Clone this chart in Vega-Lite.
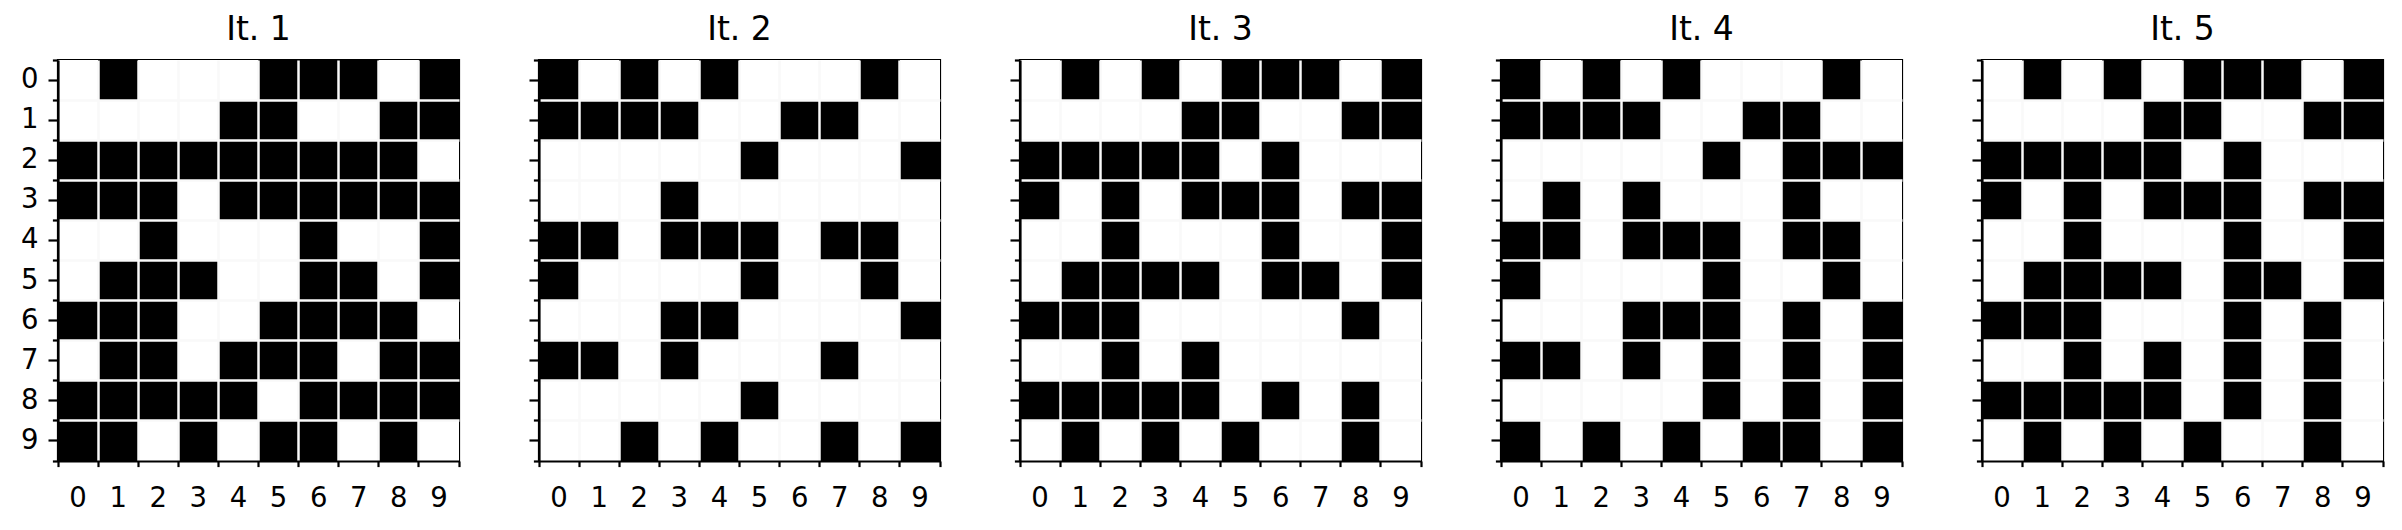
{
"$schema": "https://vega.github.io/schema/vega-lite/v6.json",
"background": "white",
"padding": {"left": 19, "top": 12, "right": 0, "bottom": 0},
"spacing": 80,
"bounds": "flush",
"datasets": {"cells": [
{"i":1,"r":0,"c":0,"v":0},{"i":1,"r":0,"c":1,"v":1},{"i":1,"r":0,"c":2,"v":0},{"i":1,"r":0,"c":3,"v":0},{"i":1,"r":0,"c":4,"v":0},{"i":1,"r":0,"c":5,"v":1},{"i":1,"r":0,"c":6,"v":1},{"i":1,"r":0,"c":7,"v":1},{"i":1,"r":0,"c":8,"v":0},{"i":1,"r":0,"c":9,"v":1},
{"i":1,"r":1,"c":0,"v":0},{"i":1,"r":1,"c":1,"v":0},{"i":1,"r":1,"c":2,"v":0},{"i":1,"r":1,"c":3,"v":0},{"i":1,"r":1,"c":4,"v":1},{"i":1,"r":1,"c":5,"v":1},{"i":1,"r":1,"c":6,"v":0},{"i":1,"r":1,"c":7,"v":0},{"i":1,"r":1,"c":8,"v":1},{"i":1,"r":1,"c":9,"v":1},
{"i":1,"r":2,"c":0,"v":1},{"i":1,"r":2,"c":1,"v":1},{"i":1,"r":2,"c":2,"v":1},{"i":1,"r":2,"c":3,"v":1},{"i":1,"r":2,"c":4,"v":1},{"i":1,"r":2,"c":5,"v":1},{"i":1,"r":2,"c":6,"v":1},{"i":1,"r":2,"c":7,"v":1},{"i":1,"r":2,"c":8,"v":1},{"i":1,"r":2,"c":9,"v":0},
{"i":1,"r":3,"c":0,"v":1},{"i":1,"r":3,"c":1,"v":1},{"i":1,"r":3,"c":2,"v":1},{"i":1,"r":3,"c":3,"v":0},{"i":1,"r":3,"c":4,"v":1},{"i":1,"r":3,"c":5,"v":1},{"i":1,"r":3,"c":6,"v":1},{"i":1,"r":3,"c":7,"v":1},{"i":1,"r":3,"c":8,"v":1},{"i":1,"r":3,"c":9,"v":1},
{"i":1,"r":4,"c":0,"v":0},{"i":1,"r":4,"c":1,"v":0},{"i":1,"r":4,"c":2,"v":1},{"i":1,"r":4,"c":3,"v":0},{"i":1,"r":4,"c":4,"v":0},{"i":1,"r":4,"c":5,"v":0},{"i":1,"r":4,"c":6,"v":1},{"i":1,"r":4,"c":7,"v":0},{"i":1,"r":4,"c":8,"v":0},{"i":1,"r":4,"c":9,"v":1},
{"i":1,"r":5,"c":0,"v":0},{"i":1,"r":5,"c":1,"v":1},{"i":1,"r":5,"c":2,"v":1},{"i":1,"r":5,"c":3,"v":1},{"i":1,"r":5,"c":4,"v":0},{"i":1,"r":5,"c":5,"v":0},{"i":1,"r":5,"c":6,"v":1},{"i":1,"r":5,"c":7,"v":1},{"i":1,"r":5,"c":8,"v":0},{"i":1,"r":5,"c":9,"v":1},
{"i":1,"r":6,"c":0,"v":1},{"i":1,"r":6,"c":1,"v":1},{"i":1,"r":6,"c":2,"v":1},{"i":1,"r":6,"c":3,"v":0},{"i":1,"r":6,"c":4,"v":0},{"i":1,"r":6,"c":5,"v":1},{"i":1,"r":6,"c":6,"v":1},{"i":1,"r":6,"c":7,"v":1},{"i":1,"r":6,"c":8,"v":1},{"i":1,"r":6,"c":9,"v":0},
{"i":1,"r":7,"c":0,"v":0},{"i":1,"r":7,"c":1,"v":1},{"i":1,"r":7,"c":2,"v":1},{"i":1,"r":7,"c":3,"v":0},{"i":1,"r":7,"c":4,"v":1},{"i":1,"r":7,"c":5,"v":1},{"i":1,"r":7,"c":6,"v":1},{"i":1,"r":7,"c":7,"v":0},{"i":1,"r":7,"c":8,"v":1},{"i":1,"r":7,"c":9,"v":1},
{"i":1,"r":8,"c":0,"v":1},{"i":1,"r":8,"c":1,"v":1},{"i":1,"r":8,"c":2,"v":1},{"i":1,"r":8,"c":3,"v":1},{"i":1,"r":8,"c":4,"v":1},{"i":1,"r":8,"c":5,"v":0},{"i":1,"r":8,"c":6,"v":1},{"i":1,"r":8,"c":7,"v":1},{"i":1,"r":8,"c":8,"v":1},{"i":1,"r":8,"c":9,"v":1},
{"i":1,"r":9,"c":0,"v":1},{"i":1,"r":9,"c":1,"v":1},{"i":1,"r":9,"c":2,"v":0},{"i":1,"r":9,"c":3,"v":1},{"i":1,"r":9,"c":4,"v":0},{"i":1,"r":9,"c":5,"v":1},{"i":1,"r":9,"c":6,"v":1},{"i":1,"r":9,"c":7,"v":0},{"i":1,"r":9,"c":8,"v":1},{"i":1,"r":9,"c":9,"v":0},

{"i":2,"r":0,"c":0,"v":1},{"i":2,"r":0,"c":1,"v":0},{"i":2,"r":0,"c":2,"v":1},{"i":2,"r":0,"c":3,"v":0},{"i":2,"r":0,"c":4,"v":1},{"i":2,"r":0,"c":5,"v":0},{"i":2,"r":0,"c":6,"v":0},{"i":2,"r":0,"c":7,"v":0},{"i":2,"r":0,"c":8,"v":1},{"i":2,"r":0,"c":9,"v":0},
{"i":2,"r":1,"c":0,"v":1},{"i":2,"r":1,"c":1,"v":1},{"i":2,"r":1,"c":2,"v":1},{"i":2,"r":1,"c":3,"v":1},{"i":2,"r":1,"c":4,"v":0},{"i":2,"r":1,"c":5,"v":0},{"i":2,"r":1,"c":6,"v":1},{"i":2,"r":1,"c":7,"v":1},{"i":2,"r":1,"c":8,"v":0},{"i":2,"r":1,"c":9,"v":0},
{"i":2,"r":2,"c":0,"v":0},{"i":2,"r":2,"c":1,"v":0},{"i":2,"r":2,"c":2,"v":0},{"i":2,"r":2,"c":3,"v":0},{"i":2,"r":2,"c":4,"v":0},{"i":2,"r":2,"c":5,"v":1},{"i":2,"r":2,"c":6,"v":0},{"i":2,"r":2,"c":7,"v":0},{"i":2,"r":2,"c":8,"v":0},{"i":2,"r":2,"c":9,"v":1},
{"i":2,"r":3,"c":0,"v":0},{"i":2,"r":3,"c":1,"v":0},{"i":2,"r":3,"c":2,"v":0},{"i":2,"r":3,"c":3,"v":1},{"i":2,"r":3,"c":4,"v":0},{"i":2,"r":3,"c":5,"v":0},{"i":2,"r":3,"c":6,"v":0},{"i":2,"r":3,"c":7,"v":0},{"i":2,"r":3,"c":8,"v":0},{"i":2,"r":3,"c":9,"v":0},
{"i":2,"r":4,"c":0,"v":1},{"i":2,"r":4,"c":1,"v":1},{"i":2,"r":4,"c":2,"v":0},{"i":2,"r":4,"c":3,"v":1},{"i":2,"r":4,"c":4,"v":1},{"i":2,"r":4,"c":5,"v":1},{"i":2,"r":4,"c":6,"v":0},{"i":2,"r":4,"c":7,"v":1},{"i":2,"r":4,"c":8,"v":1},{"i":2,"r":4,"c":9,"v":0},
{"i":2,"r":5,"c":0,"v":1},{"i":2,"r":5,"c":1,"v":0},{"i":2,"r":5,"c":2,"v":0},{"i":2,"r":5,"c":3,"v":0},{"i":2,"r":5,"c":4,"v":0},{"i":2,"r":5,"c":5,"v":1},{"i":2,"r":5,"c":6,"v":0},{"i":2,"r":5,"c":7,"v":0},{"i":2,"r":5,"c":8,"v":1},{"i":2,"r":5,"c":9,"v":0},
{"i":2,"r":6,"c":0,"v":0},{"i":2,"r":6,"c":1,"v":0},{"i":2,"r":6,"c":2,"v":0},{"i":2,"r":6,"c":3,"v":1},{"i":2,"r":6,"c":4,"v":1},{"i":2,"r":6,"c":5,"v":0},{"i":2,"r":6,"c":6,"v":0},{"i":2,"r":6,"c":7,"v":0},{"i":2,"r":6,"c":8,"v":0},{"i":2,"r":6,"c":9,"v":1},
{"i":2,"r":7,"c":0,"v":1},{"i":2,"r":7,"c":1,"v":1},{"i":2,"r":7,"c":2,"v":0},{"i":2,"r":7,"c":3,"v":1},{"i":2,"r":7,"c":4,"v":0},{"i":2,"r":7,"c":5,"v":0},{"i":2,"r":7,"c":6,"v":0},{"i":2,"r":7,"c":7,"v":1},{"i":2,"r":7,"c":8,"v":0},{"i":2,"r":7,"c":9,"v":0},
{"i":2,"r":8,"c":0,"v":0},{"i":2,"r":8,"c":1,"v":0},{"i":2,"r":8,"c":2,"v":0},{"i":2,"r":8,"c":3,"v":0},{"i":2,"r":8,"c":4,"v":0},{"i":2,"r":8,"c":5,"v":1},{"i":2,"r":8,"c":6,"v":0},{"i":2,"r":8,"c":7,"v":0},{"i":2,"r":8,"c":8,"v":0},{"i":2,"r":8,"c":9,"v":0},
{"i":2,"r":9,"c":0,"v":0},{"i":2,"r":9,"c":1,"v":0},{"i":2,"r":9,"c":2,"v":1},{"i":2,"r":9,"c":3,"v":0},{"i":2,"r":9,"c":4,"v":1},{"i":2,"r":9,"c":5,"v":0},{"i":2,"r":9,"c":6,"v":0},{"i":2,"r":9,"c":7,"v":1},{"i":2,"r":9,"c":8,"v":0},{"i":2,"r":9,"c":9,"v":1},

{"i":3,"r":0,"c":0,"v":0},{"i":3,"r":0,"c":1,"v":1},{"i":3,"r":0,"c":2,"v":0},{"i":3,"r":0,"c":3,"v":1},{"i":3,"r":0,"c":4,"v":0},{"i":3,"r":0,"c":5,"v":1},{"i":3,"r":0,"c":6,"v":1},{"i":3,"r":0,"c":7,"v":1},{"i":3,"r":0,"c":8,"v":0},{"i":3,"r":0,"c":9,"v":1},
{"i":3,"r":1,"c":0,"v":0},{"i":3,"r":1,"c":1,"v":0},{"i":3,"r":1,"c":2,"v":0},{"i":3,"r":1,"c":3,"v":0},{"i":3,"r":1,"c":4,"v":1},{"i":3,"r":1,"c":5,"v":1},{"i":3,"r":1,"c":6,"v":0},{"i":3,"r":1,"c":7,"v":0},{"i":3,"r":1,"c":8,"v":1},{"i":3,"r":1,"c":9,"v":1},
{"i":3,"r":2,"c":0,"v":1},{"i":3,"r":2,"c":1,"v":1},{"i":3,"r":2,"c":2,"v":1},{"i":3,"r":2,"c":3,"v":1},{"i":3,"r":2,"c":4,"v":1},{"i":3,"r":2,"c":5,"v":0},{"i":3,"r":2,"c":6,"v":1},{"i":3,"r":2,"c":7,"v":0},{"i":3,"r":2,"c":8,"v":0},{"i":3,"r":2,"c":9,"v":0},
{"i":3,"r":3,"c":0,"v":1},{"i":3,"r":3,"c":1,"v":0},{"i":3,"r":3,"c":2,"v":1},{"i":3,"r":3,"c":3,"v":0},{"i":3,"r":3,"c":4,"v":1},{"i":3,"r":3,"c":5,"v":1},{"i":3,"r":3,"c":6,"v":1},{"i":3,"r":3,"c":7,"v":0},{"i":3,"r":3,"c":8,"v":1},{"i":3,"r":3,"c":9,"v":1},
{"i":3,"r":4,"c":0,"v":0},{"i":3,"r":4,"c":1,"v":0},{"i":3,"r":4,"c":2,"v":1},{"i":3,"r":4,"c":3,"v":0},{"i":3,"r":4,"c":4,"v":0},{"i":3,"r":4,"c":5,"v":0},{"i":3,"r":4,"c":6,"v":1},{"i":3,"r":4,"c":7,"v":0},{"i":3,"r":4,"c":8,"v":0},{"i":3,"r":4,"c":9,"v":1},
{"i":3,"r":5,"c":0,"v":0},{"i":3,"r":5,"c":1,"v":1},{"i":3,"r":5,"c":2,"v":1},{"i":3,"r":5,"c":3,"v":1},{"i":3,"r":5,"c":4,"v":1},{"i":3,"r":5,"c":5,"v":0},{"i":3,"r":5,"c":6,"v":1},{"i":3,"r":5,"c":7,"v":1},{"i":3,"r":5,"c":8,"v":0},{"i":3,"r":5,"c":9,"v":1},
{"i":3,"r":6,"c":0,"v":1},{"i":3,"r":6,"c":1,"v":1},{"i":3,"r":6,"c":2,"v":1},{"i":3,"r":6,"c":3,"v":0},{"i":3,"r":6,"c":4,"v":0},{"i":3,"r":6,"c":5,"v":0},{"i":3,"r":6,"c":6,"v":0},{"i":3,"r":6,"c":7,"v":0},{"i":3,"r":6,"c":8,"v":1},{"i":3,"r":6,"c":9,"v":0},
{"i":3,"r":7,"c":0,"v":0},{"i":3,"r":7,"c":1,"v":0},{"i":3,"r":7,"c":2,"v":1},{"i":3,"r":7,"c":3,"v":0},{"i":3,"r":7,"c":4,"v":1},{"i":3,"r":7,"c":5,"v":0},{"i":3,"r":7,"c":6,"v":0},{"i":3,"r":7,"c":7,"v":0},{"i":3,"r":7,"c":8,"v":0},{"i":3,"r":7,"c":9,"v":0},
{"i":3,"r":8,"c":0,"v":1},{"i":3,"r":8,"c":1,"v":1},{"i":3,"r":8,"c":2,"v":1},{"i":3,"r":8,"c":3,"v":1},{"i":3,"r":8,"c":4,"v":1},{"i":3,"r":8,"c":5,"v":0},{"i":3,"r":8,"c":6,"v":1},{"i":3,"r":8,"c":7,"v":0},{"i":3,"r":8,"c":8,"v":1},{"i":3,"r":8,"c":9,"v":0},
{"i":3,"r":9,"c":0,"v":0},{"i":3,"r":9,"c":1,"v":1},{"i":3,"r":9,"c":2,"v":0},{"i":3,"r":9,"c":3,"v":1},{"i":3,"r":9,"c":4,"v":0},{"i":3,"r":9,"c":5,"v":1},{"i":3,"r":9,"c":6,"v":0},{"i":3,"r":9,"c":7,"v":0},{"i":3,"r":9,"c":8,"v":1},{"i":3,"r":9,"c":9,"v":0},

{"i":4,"r":0,"c":0,"v":1},{"i":4,"r":0,"c":1,"v":0},{"i":4,"r":0,"c":2,"v":1},{"i":4,"r":0,"c":3,"v":0},{"i":4,"r":0,"c":4,"v":1},{"i":4,"r":0,"c":5,"v":0},{"i":4,"r":0,"c":6,"v":0},{"i":4,"r":0,"c":7,"v":0},{"i":4,"r":0,"c":8,"v":1},{"i":4,"r":0,"c":9,"v":0},
{"i":4,"r":1,"c":0,"v":1},{"i":4,"r":1,"c":1,"v":1},{"i":4,"r":1,"c":2,"v":1},{"i":4,"r":1,"c":3,"v":1},{"i":4,"r":1,"c":4,"v":0},{"i":4,"r":1,"c":5,"v":0},{"i":4,"r":1,"c":6,"v":1},{"i":4,"r":1,"c":7,"v":1},{"i":4,"r":1,"c":8,"v":0},{"i":4,"r":1,"c":9,"v":0},
{"i":4,"r":2,"c":0,"v":0},{"i":4,"r":2,"c":1,"v":0},{"i":4,"r":2,"c":2,"v":0},{"i":4,"r":2,"c":3,"v":0},{"i":4,"r":2,"c":4,"v":0},{"i":4,"r":2,"c":5,"v":1},{"i":4,"r":2,"c":6,"v":0},{"i":4,"r":2,"c":7,"v":1},{"i":4,"r":2,"c":8,"v":1},{"i":4,"r":2,"c":9,"v":1},
{"i":4,"r":3,"c":0,"v":0},{"i":4,"r":3,"c":1,"v":1},{"i":4,"r":3,"c":2,"v":0},{"i":4,"r":3,"c":3,"v":1},{"i":4,"r":3,"c":4,"v":0},{"i":4,"r":3,"c":5,"v":0},{"i":4,"r":3,"c":6,"v":0},{"i":4,"r":3,"c":7,"v":1},{"i":4,"r":3,"c":8,"v":0},{"i":4,"r":3,"c":9,"v":0},
{"i":4,"r":4,"c":0,"v":1},{"i":4,"r":4,"c":1,"v":1},{"i":4,"r":4,"c":2,"v":0},{"i":4,"r":4,"c":3,"v":1},{"i":4,"r":4,"c":4,"v":1},{"i":4,"r":4,"c":5,"v":1},{"i":4,"r":4,"c":6,"v":0},{"i":4,"r":4,"c":7,"v":1},{"i":4,"r":4,"c":8,"v":1},{"i":4,"r":4,"c":9,"v":0},
{"i":4,"r":5,"c":0,"v":1},{"i":4,"r":5,"c":1,"v":0},{"i":4,"r":5,"c":2,"v":0},{"i":4,"r":5,"c":3,"v":0},{"i":4,"r":5,"c":4,"v":0},{"i":4,"r":5,"c":5,"v":1},{"i":4,"r":5,"c":6,"v":0},{"i":4,"r":5,"c":7,"v":0},{"i":4,"r":5,"c":8,"v":1},{"i":4,"r":5,"c":9,"v":0},
{"i":4,"r":6,"c":0,"v":0},{"i":4,"r":6,"c":1,"v":0},{"i":4,"r":6,"c":2,"v":0},{"i":4,"r":6,"c":3,"v":1},{"i":4,"r":6,"c":4,"v":1},{"i":4,"r":6,"c":5,"v":1},{"i":4,"r":6,"c":6,"v":0},{"i":4,"r":6,"c":7,"v":1},{"i":4,"r":6,"c":8,"v":0},{"i":4,"r":6,"c":9,"v":1},
{"i":4,"r":7,"c":0,"v":1},{"i":4,"r":7,"c":1,"v":1},{"i":4,"r":7,"c":2,"v":0},{"i":4,"r":7,"c":3,"v":1},{"i":4,"r":7,"c":4,"v":0},{"i":4,"r":7,"c":5,"v":1},{"i":4,"r":7,"c":6,"v":0},{"i":4,"r":7,"c":7,"v":1},{"i":4,"r":7,"c":8,"v":0},{"i":4,"r":7,"c":9,"v":1},
{"i":4,"r":8,"c":0,"v":0},{"i":4,"r":8,"c":1,"v":0},{"i":4,"r":8,"c":2,"v":0},{"i":4,"r":8,"c":3,"v":0},{"i":4,"r":8,"c":4,"v":0},{"i":4,"r":8,"c":5,"v":1},{"i":4,"r":8,"c":6,"v":0},{"i":4,"r":8,"c":7,"v":1},{"i":4,"r":8,"c":8,"v":0},{"i":4,"r":8,"c":9,"v":1},
{"i":4,"r":9,"c":0,"v":1},{"i":4,"r":9,"c":1,"v":0},{"i":4,"r":9,"c":2,"v":1},{"i":4,"r":9,"c":3,"v":0},{"i":4,"r":9,"c":4,"v":1},{"i":4,"r":9,"c":5,"v":0},{"i":4,"r":9,"c":6,"v":1},{"i":4,"r":9,"c":7,"v":1},{"i":4,"r":9,"c":8,"v":0},{"i":4,"r":9,"c":9,"v":1},

{"i":5,"r":0,"c":0,"v":0},{"i":5,"r":0,"c":1,"v":1},{"i":5,"r":0,"c":2,"v":0},{"i":5,"r":0,"c":3,"v":1},{"i":5,"r":0,"c":4,"v":0},{"i":5,"r":0,"c":5,"v":1},{"i":5,"r":0,"c":6,"v":1},{"i":5,"r":0,"c":7,"v":1},{"i":5,"r":0,"c":8,"v":0},{"i":5,"r":0,"c":9,"v":1},
{"i":5,"r":1,"c":0,"v":0},{"i":5,"r":1,"c":1,"v":0},{"i":5,"r":1,"c":2,"v":0},{"i":5,"r":1,"c":3,"v":0},{"i":5,"r":1,"c":4,"v":1},{"i":5,"r":1,"c":5,"v":1},{"i":5,"r":1,"c":6,"v":0},{"i":5,"r":1,"c":7,"v":0},{"i":5,"r":1,"c":8,"v":1},{"i":5,"r":1,"c":9,"v":1},
{"i":5,"r":2,"c":0,"v":1},{"i":5,"r":2,"c":1,"v":1},{"i":5,"r":2,"c":2,"v":1},{"i":5,"r":2,"c":3,"v":1},{"i":5,"r":2,"c":4,"v":1},{"i":5,"r":2,"c":5,"v":0},{"i":5,"r":2,"c":6,"v":1},{"i":5,"r":2,"c":7,"v":0},{"i":5,"r":2,"c":8,"v":0},{"i":5,"r":2,"c":9,"v":0},
{"i":5,"r":3,"c":0,"v":1},{"i":5,"r":3,"c":1,"v":0},{"i":5,"r":3,"c":2,"v":1},{"i":5,"r":3,"c":3,"v":0},{"i":5,"r":3,"c":4,"v":1},{"i":5,"r":3,"c":5,"v":1},{"i":5,"r":3,"c":6,"v":1},{"i":5,"r":3,"c":7,"v":0},{"i":5,"r":3,"c":8,"v":1},{"i":5,"r":3,"c":9,"v":1},
{"i":5,"r":4,"c":0,"v":0},{"i":5,"r":4,"c":1,"v":0},{"i":5,"r":4,"c":2,"v":1},{"i":5,"r":4,"c":3,"v":0},{"i":5,"r":4,"c":4,"v":0},{"i":5,"r":4,"c":5,"v":0},{"i":5,"r":4,"c":6,"v":1},{"i":5,"r":4,"c":7,"v":0},{"i":5,"r":4,"c":8,"v":0},{"i":5,"r":4,"c":9,"v":1},
{"i":5,"r":5,"c":0,"v":0},{"i":5,"r":5,"c":1,"v":1},{"i":5,"r":5,"c":2,"v":1},{"i":5,"r":5,"c":3,"v":1},{"i":5,"r":5,"c":4,"v":1},{"i":5,"r":5,"c":5,"v":0},{"i":5,"r":5,"c":6,"v":1},{"i":5,"r":5,"c":7,"v":1},{"i":5,"r":5,"c":8,"v":0},{"i":5,"r":5,"c":9,"v":1},
{"i":5,"r":6,"c":0,"v":1},{"i":5,"r":6,"c":1,"v":1},{"i":5,"r":6,"c":2,"v":1},{"i":5,"r":6,"c":3,"v":0},{"i":5,"r":6,"c":4,"v":0},{"i":5,"r":6,"c":5,"v":0},{"i":5,"r":6,"c":6,"v":1},{"i":5,"r":6,"c":7,"v":0},{"i":5,"r":6,"c":8,"v":1},{"i":5,"r":6,"c":9,"v":0},
{"i":5,"r":7,"c":0,"v":0},{"i":5,"r":7,"c":1,"v":0},{"i":5,"r":7,"c":2,"v":1},{"i":5,"r":7,"c":3,"v":0},{"i":5,"r":7,"c":4,"v":1},{"i":5,"r":7,"c":5,"v":0},{"i":5,"r":7,"c":6,"v":1},{"i":5,"r":7,"c":7,"v":0},{"i":5,"r":7,"c":8,"v":1},{"i":5,"r":7,"c":9,"v":0},
{"i":5,"r":8,"c":0,"v":1},{"i":5,"r":8,"c":1,"v":1},{"i":5,"r":8,"c":2,"v":1},{"i":5,"r":8,"c":3,"v":1},{"i":5,"r":8,"c":4,"v":1},{"i":5,"r":8,"c":5,"v":0},{"i":5,"r":8,"c":6,"v":1},{"i":5,"r":8,"c":7,"v":0},{"i":5,"r":8,"c":8,"v":1},{"i":5,"r":8,"c":9,"v":0},
{"i":5,"r":9,"c":0,"v":0},{"i":5,"r":9,"c":1,"v":1},{"i":5,"r":9,"c":2,"v":0},{"i":5,"r":9,"c":3,"v":1},{"i":5,"r":9,"c":4,"v":0},{"i":5,"r":9,"c":5,"v":1},{"i":5,"r":9,"c":6,"v":0},{"i":5,"r":9,"c":7,"v":0},{"i":5,"r":9,"c":8,"v":1},{"i":5,"r":9,"c":9,"v":0}
]},
"config": {
  "font": "DejaVu Sans",
  "view": {"stroke": "black", "strokeWidth": 2.2},
  "title": {"fontSize": 33, "fontWeight": "normal", "color": "black", "font": "DejaVu Sans", "offset": 12, "anchor": "middle"},
  "axis": {"labelFont": "DejaVu Sans", "labelFontSize": 27.5, "labelColor": "black", "tickColor": "black", "tickWidth": 2.2, "domainColor": "black", "domainWidth": 2.2, "title": null, "labelAngle": 0},
  "scale": {"bandPaddingInner": 0, "bandPaddingOuter": 0}
},
"hconcat": [
{
  "title": "It. 1", "width": 401, "height": 401,
  "data": {"name": "cells"},
  "transform": [{"filter": "datum.i == 1"}],
  "resolve": {"axis": {"x": "independent", "y": "independent"}},
  "layer": [
    {"mark": {"type": "rect"}, "encoding": {
      "x": {"field": "c", "type": "ordinal", "axis": {"orient": "bottom", "ticks": false, "tickSize": 0, "labelPadding": 23, "domain": true, "grid": false, "zindex": 2}},
      "y": {"field": "r", "type": "ordinal", "axis": {"orient": "left", "tickSize": 10, "labelPadding": 10, "domain": true, "grid": false, "zindex": 2}},
      "color": {"field": "v", "type": "nominal", "scale": {"domain": [0, 1], "range": ["white", "black"]}, "legend": null}}},
    {"mark": {"type": "rect"}, "encoding": {
      "x": {"field": "c", "type": "ordinal", "axis": {"orient": "bottom", "bandPosition": 0, "tickSize": 5.6, "labels": false, "domain": false, "grid": false, "zindex": 2}},
      "y": {"field": "r", "type": "ordinal", "axis": {"orient": "left", "bandPosition": 0, "tickSize": 5.6, "labels": false, "domain": false, "grid": false, "zindex": 2}},
      "color": {"field": "v", "type": "nominal", "scale": {"domain": [0, 1], "range": ["white", "black"]}, "legend": null}}},
    {"mark": {"type": "rect"}, "encoding": {
      "x": {"field": "c", "type": "ordinal", "axis": {"orient": "bottom", "bandPosition": 1, "values": [9], "tickSize": 5.6, "labels": false, "domain": false, "grid": false, "zindex": 2}},
      "y": {"field": "r", "type": "ordinal", "axis": {"orient": "left", "bandPosition": 1, "values": [9], "tickSize": 5.6, "labels": false, "domain": false, "grid": false, "zindex": 2}},
      "color": {"field": "v", "type": "nominal", "scale": {"domain": [0, 1], "range": ["white", "black"]}, "legend": null}}},
    {"mark": {"type": "rect"}, "encoding": {
      "x": {"field": "c", "type": "ordinal", "axis": {"orient": "bottom", "bandPosition": 0, "values": [1,2,3,4,5,6,7,8,9], "ticks": false, "labels": false, "domain": false, "grid": true, "gridColor": "#f9f9f9", "gridWidth": 2.5, "gridOpacity": 1, "zindex": 1}},
      "y": {"field": "r", "type": "ordinal", "axis": {"orient": "left", "bandPosition": 0, "values": [1,2,3,4,5,6,7,8,9], "ticks": false, "labels": false, "domain": false, "grid": true, "gridColor": "#f9f9f9", "gridWidth": 2.5, "gridOpacity": 1, "zindex": 1}},
      "color": {"field": "v", "type": "nominal", "scale": {"domain": [0, 1], "range": ["white", "black"]}, "legend": null}}}
  ]
},
{
  "title": "It. 2", "width": 401, "height": 401,
  "data": {"name": "cells"},
  "transform": [{"filter": "datum.i == 2"}],
  "resolve": {"axis": {"x": "independent", "y": "independent"}},
  "layer": [
    {"mark": {"type": "rect"}, "encoding": {
      "x": {"field": "c", "type": "ordinal", "axis": {"orient": "bottom", "ticks": false, "tickSize": 0, "labelPadding": 23, "domain": true, "grid": false, "zindex": 2}},
      "y": {"field": "r", "type": "ordinal", "axis": {"orient": "left", "tickSize": 10, "labels": false, "domain": true, "grid": false, "zindex": 2}},
      "color": {"field": "v", "type": "nominal", "scale": {"domain": [0, 1], "range": ["white", "black"]}, "legend": null}}},
    {"mark": {"type": "rect"}, "encoding": {
      "x": {"field": "c", "type": "ordinal", "axis": {"orient": "bottom", "bandPosition": 0, "tickSize": 5.6, "labels": false, "domain": false, "grid": false, "zindex": 2}},
      "y": {"field": "r", "type": "ordinal", "axis": {"orient": "left", "bandPosition": 0, "tickSize": 5.6, "labels": false, "domain": false, "grid": false, "zindex": 2}},
      "color": {"field": "v", "type": "nominal", "scale": {"domain": [0, 1], "range": ["white", "black"]}, "legend": null}}},
    {"mark": {"type": "rect"}, "encoding": {
      "x": {"field": "c", "type": "ordinal", "axis": {"orient": "bottom", "bandPosition": 1, "values": [9], "tickSize": 5.6, "labels": false, "domain": false, "grid": false, "zindex": 2}},
      "y": {"field": "r", "type": "ordinal", "axis": {"orient": "left", "bandPosition": 1, "values": [9], "tickSize": 5.6, "labels": false, "domain": false, "grid": false, "zindex": 2}},
      "color": {"field": "v", "type": "nominal", "scale": {"domain": [0, 1], "range": ["white", "black"]}, "legend": null}}},
    {"mark": {"type": "rect"}, "encoding": {
      "x": {"field": "c", "type": "ordinal", "axis": {"orient": "bottom", "bandPosition": 0, "values": [1,2,3,4,5,6,7,8,9], "ticks": false, "labels": false, "domain": false, "grid": true, "gridColor": "#f9f9f9", "gridWidth": 2.5, "gridOpacity": 1, "zindex": 1}},
      "y": {"field": "r", "type": "ordinal", "axis": {"orient": "left", "bandPosition": 0, "values": [1,2,3,4,5,6,7,8,9], "ticks": false, "labels": false, "domain": false, "grid": true, "gridColor": "#f9f9f9", "gridWidth": 2.5, "gridOpacity": 1, "zindex": 1}},
      "color": {"field": "v", "type": "nominal", "scale": {"domain": [0, 1], "range": ["white", "black"]}, "legend": null}}}
  ]
},
{
  "title": "It. 3", "width": 401, "height": 401,
  "data": {"name": "cells"},
  "transform": [{"filter": "datum.i == 3"}],
  "resolve": {"axis": {"x": "independent", "y": "independent"}},
  "layer": [
    {"mark": {"type": "rect"}, "encoding": {
      "x": {"field": "c", "type": "ordinal", "axis": {"orient": "bottom", "ticks": false, "tickSize": 0, "labelPadding": 23, "domain": true, "grid": false, "zindex": 2}},
      "y": {"field": "r", "type": "ordinal", "axis": {"orient": "left", "tickSize": 10, "labels": false, "domain": true, "grid": false, "zindex": 2}},
      "color": {"field": "v", "type": "nominal", "scale": {"domain": [0, 1], "range": ["white", "black"]}, "legend": null}}},
    {"mark": {"type": "rect"}, "encoding": {
      "x": {"field": "c", "type": "ordinal", "axis": {"orient": "bottom", "bandPosition": 0, "tickSize": 5.6, "labels": false, "domain": false, "grid": false, "zindex": 2}},
      "y": {"field": "r", "type": "ordinal", "axis": {"orient": "left", "bandPosition": 0, "tickSize": 5.6, "labels": false, "domain": false, "grid": false, "zindex": 2}},
      "color": {"field": "v", "type": "nominal", "scale": {"domain": [0, 1], "range": ["white", "black"]}, "legend": null}}},
    {"mark": {"type": "rect"}, "encoding": {
      "x": {"field": "c", "type": "ordinal", "axis": {"orient": "bottom", "bandPosition": 1, "values": [9], "tickSize": 5.6, "labels": false, "domain": false, "grid": false, "zindex": 2}},
      "y": {"field": "r", "type": "ordinal", "axis": {"orient": "left", "bandPosition": 1, "values": [9], "tickSize": 5.6, "labels": false, "domain": false, "grid": false, "zindex": 2}},
      "color": {"field": "v", "type": "nominal", "scale": {"domain": [0, 1], "range": ["white", "black"]}, "legend": null}}},
    {"mark": {"type": "rect"}, "encoding": {
      "x": {"field": "c", "type": "ordinal", "axis": {"orient": "bottom", "bandPosition": 0, "values": [1,2,3,4,5,6,7,8,9], "ticks": false, "labels": false, "domain": false, "grid": true, "gridColor": "#f9f9f9", "gridWidth": 2.5, "gridOpacity": 1, "zindex": 1}},
      "y": {"field": "r", "type": "ordinal", "axis": {"orient": "left", "bandPosition": 0, "values": [1,2,3,4,5,6,7,8,9], "ticks": false, "labels": false, "domain": false, "grid": true, "gridColor": "#f9f9f9", "gridWidth": 2.5, "gridOpacity": 1, "zindex": 1}},
      "color": {"field": "v", "type": "nominal", "scale": {"domain": [0, 1], "range": ["white", "black"]}, "legend": null}}}
  ]
},
{
  "title": "It. 4", "width": 401, "height": 401,
  "data": {"name": "cells"},
  "transform": [{"filter": "datum.i == 4"}],
  "resolve": {"axis": {"x": "independent", "y": "independent"}},
  "layer": [
    {"mark": {"type": "rect"}, "encoding": {
      "x": {"field": "c", "type": "ordinal", "axis": {"orient": "bottom", "ticks": false, "tickSize": 0, "labelPadding": 23, "domain": true, "grid": false, "zindex": 2}},
      "y": {"field": "r", "type": "ordinal", "axis": {"orient": "left", "tickSize": 10, "labels": false, "domain": true, "grid": false, "zindex": 2}},
      "color": {"field": "v", "type": "nominal", "scale": {"domain": [0, 1], "range": ["white", "black"]}, "legend": null}}},
    {"mark": {"type": "rect"}, "encoding": {
      "x": {"field": "c", "type": "ordinal", "axis": {"orient": "bottom", "bandPosition": 0, "tickSize": 5.6, "labels": false, "domain": false, "grid": false, "zindex": 2}},
      "y": {"field": "r", "type": "ordinal", "axis": {"orient": "left", "bandPosition": 0, "tickSize": 5.6, "labels": false, "domain": false, "grid": false, "zindex": 2}},
      "color": {"field": "v", "type": "nominal", "scale": {"domain": [0, 1], "range": ["white", "black"]}, "legend": null}}},
    {"mark": {"type": "rect"}, "encoding": {
      "x": {"field": "c", "type": "ordinal", "axis": {"orient": "bottom", "bandPosition": 1, "values": [9], "tickSize": 5.6, "labels": false, "domain": false, "grid": false, "zindex": 2}},
      "y": {"field": "r", "type": "ordinal", "axis": {"orient": "left", "bandPosition": 1, "values": [9], "tickSize": 5.6, "labels": false, "domain": false, "grid": false, "zindex": 2}},
      "color": {"field": "v", "type": "nominal", "scale": {"domain": [0, 1], "range": ["white", "black"]}, "legend": null}}},
    {"mark": {"type": "rect"}, "encoding": {
      "x": {"field": "c", "type": "ordinal", "axis": {"orient": "bottom", "bandPosition": 0, "values": [1,2,3,4,5,6,7,8,9], "ticks": false, "labels": false, "domain": false, "grid": true, "gridColor": "#f9f9f9", "gridWidth": 2.5, "gridOpacity": 1, "zindex": 1}},
      "y": {"field": "r", "type": "ordinal", "axis": {"orient": "left", "bandPosition": 0, "values": [1,2,3,4,5,6,7,8,9], "ticks": false, "labels": false, "domain": false, "grid": true, "gridColor": "#f9f9f9", "gridWidth": 2.5, "gridOpacity": 1, "zindex": 1}},
      "color": {"field": "v", "type": "nominal", "scale": {"domain": [0, 1], "range": ["white", "black"]}, "legend": null}}}
  ]
},
{
  "title": "It. 5", "width": 401, "height": 401,
  "data": {"name": "cells"},
  "transform": [{"filter": "datum.i == 5"}],
  "resolve": {"axis": {"x": "independent", "y": "independent"}},
  "layer": [
    {"mark": {"type": "rect"}, "encoding": {
      "x": {"field": "c", "type": "ordinal", "axis": {"orient": "bottom", "ticks": false, "tickSize": 0, "labelPadding": 23, "domain": true, "grid": false, "zindex": 2}},
      "y": {"field": "r", "type": "ordinal", "axis": {"orient": "left", "tickSize": 10, "labels": false, "domain": true, "grid": false, "zindex": 2}},
      "color": {"field": "v", "type": "nominal", "scale": {"domain": [0, 1], "range": ["white", "black"]}, "legend": null}}},
    {"mark": {"type": "rect"}, "encoding": {
      "x": {"field": "c", "type": "ordinal", "axis": {"orient": "bottom", "bandPosition": 0, "tickSize": 5.6, "labels": false, "domain": false, "grid": false, "zindex": 2}},
      "y": {"field": "r", "type": "ordinal", "axis": {"orient": "left", "bandPosition": 0, "tickSize": 5.6, "labels": false, "domain": false, "grid": false, "zindex": 2}},
      "color": {"field": "v", "type": "nominal", "scale": {"domain": [0, 1], "range": ["white", "black"]}, "legend": null}}},
    {"mark": {"type": "rect"}, "encoding": {
      "x": {"field": "c", "type": "ordinal", "axis": {"orient": "bottom", "bandPosition": 1, "values": [9], "tickSize": 5.6, "labels": false, "domain": false, "grid": false, "zindex": 2}},
      "y": {"field": "r", "type": "ordinal", "axis": {"orient": "left", "bandPosition": 1, "values": [9], "tickSize": 5.6, "labels": false, "domain": false, "grid": false, "zindex": 2}},
      "color": {"field": "v", "type": "nominal", "scale": {"domain": [0, 1], "range": ["white", "black"]}, "legend": null}}},
    {"mark": {"type": "rect"}, "encoding": {
      "x": {"field": "c", "type": "ordinal", "axis": {"orient": "bottom", "bandPosition": 0, "values": [1,2,3,4,5,6,7,8,9], "ticks": false, "labels": false, "domain": false, "grid": true, "gridColor": "#f9f9f9", "gridWidth": 2.5, "gridOpacity": 1, "zindex": 1}},
      "y": {"field": "r", "type": "ordinal", "axis": {"orient": "left", "bandPosition": 0, "values": [1,2,3,4,5,6,7,8,9], "ticks": false, "labels": false, "domain": false, "grid": true, "gridColor": "#f9f9f9", "gridWidth": 2.5, "gridOpacity": 1, "zindex": 1}},
      "color": {"field": "v", "type": "nominal", "scale": {"domain": [0, 1], "range": ["white", "black"]}, "legend": null}}}
  ]
}
]
}
